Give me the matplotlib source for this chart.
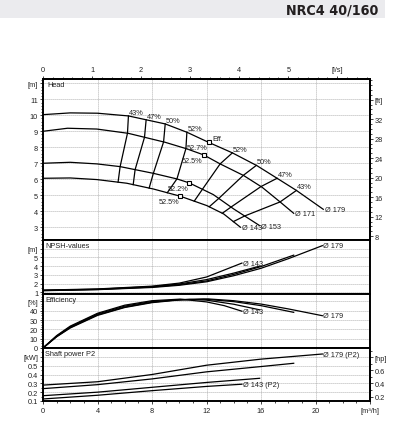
import numpy as np
import matplotlib
matplotlib.use("Agg")
import matplotlib.pyplot as plt
from matplotlib.ticker import FixedLocator, MultipleLocator
from matplotlib.patches import Rectangle
from matplotlib import font_manager

plt.rcParams['font.family'] = ['Liberation Sans', 'DejaVu Sans']

# ---------------- data ----------------
diameters = ["179", "171", "153", "143"]

head_Q = {
    "179": [0, 2, 4, 6.27, 8.97, 10.56, 12.15, 13.9, 15.7, 17.2, 18.6, 20.57],
    "171": [0, 1.8, 3.95, 6.27, 8.97, 10.56, 11.8, 13.0, 14.73, 16.08, 17.43, 18.4],
    "153": [0, 2, 3.95, 5.66, 8.1, 9.83, 10.74, 12.5, 14.0, 15.9],
    "143": [0, 2, 3.95, 6.15, 8.1, 10.07, 12.03, 13.26, 14.49],
}
head_H = {
    "179": [10.04, 10.15, 10.13, 9.96, 9.46, 8.94, 8.31, 7.65, 6.85, 6.05, 5.3, 4.12],
    "171": [9.0, 9.19, 9.14, 8.87, 8.31, 7.9, 7.52, 6.96, 6.23, 5.5, 4.56, 3.87],
    "153": [7.0, 7.06, 6.96, 6.79, 6.37, 6.02, 5.77, 5.04, 4.14, 3.1],
    "143": [6.06, 6.08, 5.98, 5.75, 5.39, 4.94, 4.35, 3.83, 3.0],
}

# best efficiency points
bep_Q = {"179": 12.15, "171": 11.8, "153": 10.74, "143": 10.07}
bep_label = {"179": "52.7%", "171": "52.5%", "153": "52.2%", "143": "52.5%"}

# iso-efficiency lines: flow on each impeller curve (179, 171, 153, 143)
iso_levels = ["43%", "47%", "50%", "52%"]
iso_left_Q = {
    "43%": [6.27, 6.2, 5.66, 5.51],
    "47%": [7.57, 7.45, 6.76, 6.62],
    "50%": [8.97, 8.85, 8.1, 7.79],
    "52%": [10.56, 10.49, 9.83, 9.12],
}
iso_right_Q = {
    "52%": [13.9, 13.0, 11.7, 11.1],
    "50%": [15.66, 14.7, 12.9, 12.2],
    "47%": [17.18, 16.0, 13.8, 13.16],
    "43%": [18.6, 17.4, 14.8, 13.97],
}

npsh_Q = {
    "179": [0, 4, 8, 10, 12, 14, 16, 18, 20.5],
    "171": [0, 4, 8, 10, 12, 14, 16, 18.4],
    "153": [0, 4, 8, 10, 12, 14, 15.9],
    "143": [0, 4, 8, 10, 12, 13.3, 14.6],
}
npsh_V = {
    "179": [1.18, 1.3, 1.55, 1.8, 2.2, 2.9, 3.75, 4.85, 6.35],
    "171": [1.2, 1.32, 1.6, 1.87, 2.3, 3.05, 3.95, 5.26],
    "153": [1.22, 1.35, 1.65, 1.95, 2.45, 3.2, 4.0],
    "143": [1.25, 1.38, 1.7, 2.05, 2.75, 3.55, 4.35],
}

eff_Q = {
    "179": [0, 1, 2, 4, 6, 8, 10, 12.15, 14, 16, 18, 20.5],
    "171": [0, 1, 2, 4, 6, 8, 10, 11.8, 14, 16, 18.4],
    "153": [0, 1, 2, 4, 6, 8, 10.74, 12, 14, 15.9],
    "143": [0, 1, 2, 4, 6, 8, 10.07, 12, 13.3, 14.6],
}
eff_V = {
    "179": [0, 12, 21.5, 35, 43.5, 48.7, 51.6, 52.7, 50.8, 47.2, 42, 34.7],
    "171": [0, 12.3, 22, 35.6, 44, 49.2, 52, 52.5, 49.8, 45.5, 38.3],
    "153": [0, 12.8, 22.8, 36.5, 45, 50, 52.2, 51.4, 47, 41],
    "143": [0, 13.3, 23.5, 37.3, 46, 50.8, 52.5, 49.5, 45.5, 39.5],
}

pow_Q = {
    "179": [0, 4, 8, 12, 16, 20.5],
    "171": [0, 4, 8, 12, 16, 18.4],
    "153": [0, 4, 8, 12, 15.9],
    "143": [0, 4, 8, 12, 14.6],
}
pow_V = {
    "179": [0.28, 0.318, 0.40, 0.505, 0.574, 0.632],
    "171": [0.24, 0.285, 0.35, 0.43, 0.49, 0.527],
    "153": [0.16, 0.20, 0.255, 0.31, 0.357],
    "143": [0.123, 0.165, 0.217, 0.265, 0.29],
}

x_ticks = [0, 4, 8, 12, 16, 20, 24]
x_ticklabels = ["0", "4", "8", "12", "16", "20", "[m³/h]"]
ls_ticks = [0, 1, 2, 3, 4, 5, 6]
ls_ticklabels = ["0", "1", "2", "3", "4", "5", "[l/s]"]

head_ticks = [3, 4, 5, 6, 7, 8, 9, 10, 11, 12]
head_ticklabels = ["3", "4", "5", "6", "7", "8", "9", "10", "11", "[m]"]
ft_ticks = [8, 12, 16, 20, 24, 28, 32, 36]
ft_ticklabels = ["8", "12", "16", "20", "24", "28", "32", "[ft]"]
npsh_ticks = [1, 2, 3, 4, 5, 6]
npsh_ticklabels = ["1", "2", "3", "4", "5", "[m]"]
eff_ticks = [0, 10, 20, 30, 40, 50]
eff_ticklabels = ["0", "10", "20", "30", "40", "[%]"]
pow_ticks = [0.1, 0.2, 0.3, 0.4, 0.5, 0.6]
pow_ticklabels = ["0.1", "0.2", "0.3", "0.4", "0.5", "[kW]"]
hp_ticks = [0.2, 0.4, 0.6, 0.8]
hp_ticklabels = ["0.2", "0.4", "0.6", "[hp]"]

# ---------------- figure ----------------
W, H = 413, 435
fig = plt.figure(figsize=(W / 100, H / 100), dpi=100)
fig.patch.set_facecolor("white")

# pick a condensed bold face for the title if one is installed
title_kw = dict(fontsize=9.5, fontweight="bold", family=["Liberation Sans", "DejaVu Sans"])
for f in font_manager.fontManager.ttflist:
    if f.weight in ("bold", 700) and f.stretch in ("condensed", "semi-condensed", 400) \
            and ("Narrow" in f.name or "Condensed" in f.name or "DejaVu" in f.name or f.stretch != "normal"):
        title_kw = dict(fontproperties=font_manager.FontProperties(fname=f.fname, size=10.3))
        break

fig.patches.append(Rectangle((0, 1 - 19 / H), 385 / W, 19 / H, transform=fig.transFigure,
                             facecolor="#ebebee", edgecolor="none", zorder=0))
fig.text(378 / W, 1 - 10.5 / H, "NRC4 40/160", ha="right", va="center",
         color="#231f20", **title_kw)

L, R = 43 / W, 370 / W

def make_ax(top, bottom):
    return fig.add_axes([L, 1 - bottom / H, R - L, (bottom - top) / H])

ax_h = make_ax(80, 241)
ax_n = make_ax(241, 295)
ax_e = make_ax(295, 349)
ax_p = make_ax(349, 402)

FS = 5.3
TXT = "#222222"
LW = 0.9
grid_kw = dict(color="#9a9a9a", linestyle=(0, (1, 1.4)), linewidth=0.6)

for ax in (ax_h, ax_n, ax_e, ax_p):
    ax.set_xlim(0, 24)
    for s in ax.spines.values():
        s.set_linewidth(1.4)
        s.set_color("black")
    ax.xaxis.set_major_locator(FixedLocator(x_ticks))
    ax.xaxis.set_minor_locator(MultipleLocator(1))
    ax.tick_params(axis="x", which="both", bottom=False, top=False, labelbottom=False)
    ax.tick_params(axis="y", which="major", direction="out", length=2.5, width=0.6,
                   labelsize=FS, pad=1, colors=TXT)
    ax.tick_params(axis="y", which="minor", direction="out", length=1.3, width=0.5)
    ax.grid(True, which="major", **grid_kw)
    ax.set_axisbelow(True)

# bottom x axis
ax_p.tick_params(axis="x", which="major", bottom=True, labelbottom=True, direction="out",
                 length=2.5, width=0.6, labelsize=FS, pad=1.5, colors=TXT)
ax_p.tick_params(axis="x", which="minor", bottom=True, direction="out", length=1.3, width=0.5)
ax_p.set_xticklabels(x_ticklabels)

# top l/s axis
sec_top = ax_h.secondary_xaxis("top", functions=(lambda q: q / 3.6, lambda l: l * 3.6))
sec_top.set_xticks(ls_ticks)
sec_top.set_xticklabels(ls_ticklabels)
sec_top.xaxis.set_minor_locator(MultipleLocator(0.2))
sec_top.tick_params(axis="x", which="major", direction="out", length=2.5, width=0.6,
                    labelsize=FS, pad=1.5, colors=TXT)
sec_top.tick_params(axis="x", which="minor", direction="out", length=1.3, width=0.5)
sec_top.spines["top"].set_linewidth(1.4)

# ---------------- head panel ----------------
ax_h.set_ylim(2.2, 12.27)
ax_h.set_yticks(head_ticks)
ax_h.set_yticklabels(head_ticklabels)
ax_h.yaxis.set_minor_locator(MultipleLocator(0.2))
sec_ft = ax_h.secondary_yaxis("right", functions=(lambda m: m * 3.28084, lambda f: f / 3.28084))
sec_ft.set_yticks(ft_ticks)
sec_ft.set_yticklabels(ft_ticklabels)
sec_ft.yaxis.set_minor_locator(MultipleLocator(1))
sec_ft.tick_params(axis="y", which="major", direction="out", length=2.5, width=0.6,
                   labelsize=FS, pad=1, colors=TXT)
sec_ft.tick_params(axis="y", which="minor", direction="out", length=1.3, width=0.5)
sec_ft.spines["right"].set_linewidth(1.4)

for d in diameters:
    ax_h.plot(head_Q[d], head_H[d], color="black", lw=LW, solid_joinstyle="round")
    ax_h.annotate("Ø " + d, (head_Q[d][-1], head_H[d][-1]), xytext=(1, -0.5),
                  textcoords="offset points", ha="left", va="center", fontsize=FS, color=TXT)

def on_curve(d, q):
    return float(np.interp(q, head_Q[d], head_H[d]))

for lev in iso_levels:
    for branch in (iso_left_Q, iso_right_Q):
        qs = branch[lev]
        hs = [on_curve(d, q) for d, q in zip(diameters, qs)]
        ax_h.plot(qs, hs, color="black", lw=LW)
        ax_h.annotate(lev, (qs[0], hs[0]), xytext=(0.3, 0.2), textcoords="offset points",
                      ha="left", va="bottom", fontsize=FS, color=TXT)

for d in diameters:
    q = bep_Q[d]
    h = on_curve(d, q)
    ax_h.plot([q], [h], marker="s", ms=3.4, mfc="white", mec="black", mew=0.8, zorder=5)
    ax_h.annotate(bep_label[d], (q, h), xytext=(-0.8, -1.3), textcoords="offset points",
                  ha="right", va="top", fontsize=FS, color=TXT)
ax_h.annotate("Eff.", (bep_Q["179"], on_curve("179", bep_Q["179"])), xytext=(2.6, 0),
              textcoords="offset points", ha="left", va="bottom", fontsize=FS, color=TXT)
ax_h.text(0.012, 0.985, "Head", transform=ax_h.transAxes, ha="left", va="top",
          fontsize=FS, color=TXT)

# ---------------- NPSH panel ----------------
ax_n.set_ylim(0.8, 7.0)
ax_n.set_yticks(npsh_ticks)
ax_n.set_yticklabels(npsh_ticklabels)
ax_n.yaxis.set_minor_locator(MultipleLocator(0.5))
for d in diameters:
    ax_n.plot(npsh_Q[d], npsh_V[d], color="black", lw=LW)
for d in ("179", "143"):
    ax_n.annotate("Ø " + d, (npsh_Q[d][-1], npsh_V[d][-1]), xytext=(0.5, 0),
                  textcoords="offset points", ha="left", va="center", fontsize=FS, color=TXT)
ax_n.text(0.006, 0.97, "NPSH-values", transform=ax_n.transAxes, ha="left", va="top",
          fontsize=FS, color=TXT)

# ---------------- efficiency panel ----------------
ax_e.set_ylim(0, 58)
ax_e.set_yticks(eff_ticks)
ax_e.set_yticklabels(eff_ticklabels)
ax_e.yaxis.set_minor_locator(MultipleLocator(2.5))
for d in diameters:
    ax_e.plot(eff_Q[d], eff_V[d], color="black", lw=LW)
for d in ("179", "143"):
    ax_e.annotate("Ø " + d, (eff_Q[d][-1], eff_V[d][-1]), xytext=(0.5, 0),
                  textcoords="offset points", ha="left", va="center", fontsize=FS, color=TXT)
ax_e.text(0.006, 0.97, "Efficiency", transform=ax_e.transAxes, ha="left", va="top",
          fontsize=FS, color=TXT)

# ---------------- power panel ----------------
ax_p.set_ylim(0.1, 0.7)
ax_p.set_yticks(pow_ticks)
ax_p.set_yticklabels(pow_ticklabels)
ax_p.yaxis.set_minor_locator(MultipleLocator(0.05))
sec_hp = ax_p.secondary_yaxis("right", functions=(lambda k: k / 0.7457, lambda h: h * 0.7457))
sec_hp.set_yticks(hp_ticks)
sec_hp.set_yticklabels(hp_ticklabels)
sec_hp.yaxis.set_minor_locator(MultipleLocator(0.1))
sec_hp.tick_params(axis="y", which="major", direction="out", length=2.5, width=0.6,
                   labelsize=FS, pad=1, colors=TXT)
sec_hp.tick_params(axis="y", which="minor", direction="out", length=1.3, width=0.5)
sec_hp.spines["right"].set_linewidth(1.4)
for d in diameters:
    ax_p.plot(pow_Q[d], pow_V[d], color="black", lw=LW)
for d in ("179", "143"):
    ax_p.annotate("Ø " + d + " (P2)", (pow_Q[d][-1], pow_V[d][-1]), xytext=(0.5, 0),
                  textcoords="offset points", ha="left", va="center", fontsize=FS, color=TXT)
ax_p.text(0.006, 0.97, "Shaft power P2", transform=ax_p.transAxes, ha="left", va="top",
          fontsize=FS, color=TXT)

fig.savefig("out.png", dpi=100)
